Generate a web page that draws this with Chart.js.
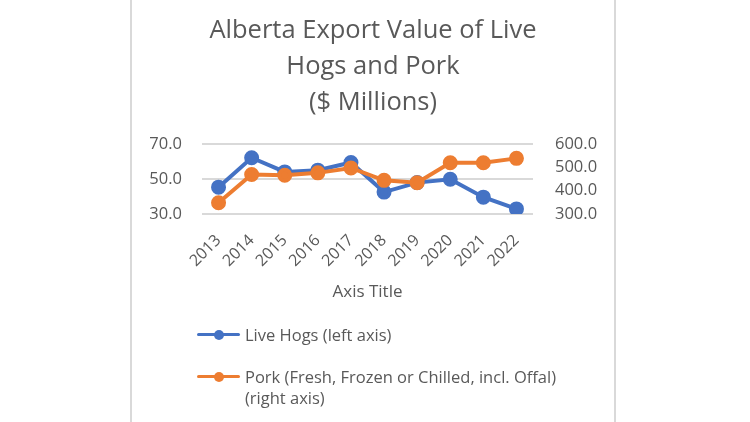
<!DOCTYPE html>
<html>
<head>
<meta charset="utf-8">
<script src="https://cdn.jsdelivr.net/npm/chart.js@4"></script>
<style>
    body { margin: 0; background: #fff; width: 750px; height: 422px; overflow: hidden; }
    #box {
        position: absolute; left: 130px; top: 0; width: 482px; height: 422px;
        border-left: 2px solid #d9d9d9; border-right: 2px solid #d9d9d9;
    }
    #chart { position: absolute; left: 0; top: 0; }
    #legend {
        position: absolute; left: 65px; top: 324px; width: 378px;
        font-family: "Open Sans", sans-serif; font-size: 16.5px; color: #595959;
    }
    .item { display: flex; align-items: flex-start; margin-bottom: 21px; line-height: 21px; }
    .swatch { position: relative; width: 43px; height: 21px; flex: none; margin-right: 5px; }
    .swatch .ln { position: absolute; left: 0; right: 0; top: 9px; height: 3px; border-radius: 2px; }
    .swatch .dot { position: absolute; left: 17px; top: 5.5px; width: 10px; height: 10px; border-radius: 50%; }
</style>
</head>
<body>
<div id="box">
    <canvas id="chart" width="482" height="422"></canvas>
    <div id="legend"></div>
</div>
<script>
const years = ["2013", "2014", "2015", "2016", "2017", "2018", "2019", "2020", "2021", "2022"];
const liveHogs = [45.3, 62.1, 54.0, 55.0, 59.4, 42.5, 47.9, 49.8, 39.6, 32.9];
const pork = [348, 469, 466, 476, 497, 444, 434, 519, 519, 538];
const leftTicks = [30, 50, 70];
const rightTicks = [300, 400, 500, 600];

const blue = "#4472c4";
const orange = "#ed7d31";
const textGray = "#595959";
const fontFamily = "'Open Sans', sans-serif";

function fixWidth(w) {
    return (scale) => { scale.width = w; };
}

const chart = new Chart(document.getElementById("chart"), {
    type: "line",
    data: {
        labels: years,
        datasets: [
            {
                label: "Live Hogs (left axis)",
                data: liveHogs,
                yAxisID: "y",
                borderColor: blue,
                backgroundColor: blue,
                borderWidth: 4,
                pointRadius: 5.5,
                pointHoverRadius: 5.5,
                order: 1,
            },
            {
                label: "Pork (Fresh, Frozen or Chilled, incl. Offal) (right axis)",
                data: pork,
                yAxisID: "y1",
                borderColor: orange,
                backgroundColor: orange,
                borderWidth: 4,
                pointRadius: 5.5,
                pointHoverRadius: 5.5,
                order: 0,
            },
        ],
    },
    options: {
        responsive: false,
        animation: false,
        layout: { padding: { left: 0, right: 0, top: 0, bottom: 116 } },
        plugins: {
            legend: { display: false },
            tooltip: { enabled: false },
            title: {
                display: true,
                text: ["Alberta Export Value of Live", "Hogs and Pork", "($ Millions)"],
                color: textGray,
                font: { family: fontFamily, size: 25.5, weight: "normal", lineHeight: 1.41 },
                padding: { top: 13, bottom: 23 },
            },
        },
        scales: {
            x: {
                offset: true,
                grid: { display: false },
                border: { display: false },
                ticks: {
                    color: textGray,
                    font: { family: fontFamily, size: 16 },
                    minRotation: 45,
                    maxRotation: 45,
                    padding: 9,
                },
                title: {
                    display: true,
                    text: "Axis Title",
                    color: textGray,
                    font: { family: fontFamily, size: 17 },
                    padding: { top: 10, bottom: 4 },
                },
                afterFit: (scale) => { scale.height = 92; },
            },
            y: {
                position: "left",
                min: 30,
                max: 70,
                afterBuildTicks: (scale) => { scale.ticks = leftTicks.map((v) => ({ value: v })); },
                grid: { color: "#d9d9d9", lineWidth: 2, drawTicks: false },
                border: { display: false },
                ticks: {
                    color: textGray,
                    font: { family: fontFamily, size: 16.5 },
                    padding: 20,
                    callback: (v) => Number(v).toFixed(1),
                },
                afterFit: fixWidth(70),
            },
            y1: {
                position: "right",
                min: 300,
                max: 600,
                afterBuildTicks: (scale) => { scale.ticks = rightTicks.map((v) => ({ value: v })); },
                grid: { display: false, drawTicks: false },
                border: { display: false },
                ticks: {
                    color: textGray,
                    font: { family: fontFamily, size: 16.5 },
                    padding: 22,
                    callback: (v) => Number(v).toFixed(1),
                },
                afterFit: fixWidth(81),
            },
        },
    },
});

// legend built from the chart's own datasets, wrapped like the original
const legendArea = document.getElementById("legend");
chart.data.datasets.forEach((ds) => {
    const item = document.createElement("div");
    item.className = "item";
    item.innerHTML =
        `<span class="swatch"><span class="ln" style="background:${ds.borderColor}"></span>` +
        `<span class="dot" style="background:${ds.borderColor}"></span></span>` +
        `<span class="txt"></span>`;
    item.querySelector(".txt").textContent = ds.label;
    legendArea.appendChild(item);
});
</script>
</body>
</html>
